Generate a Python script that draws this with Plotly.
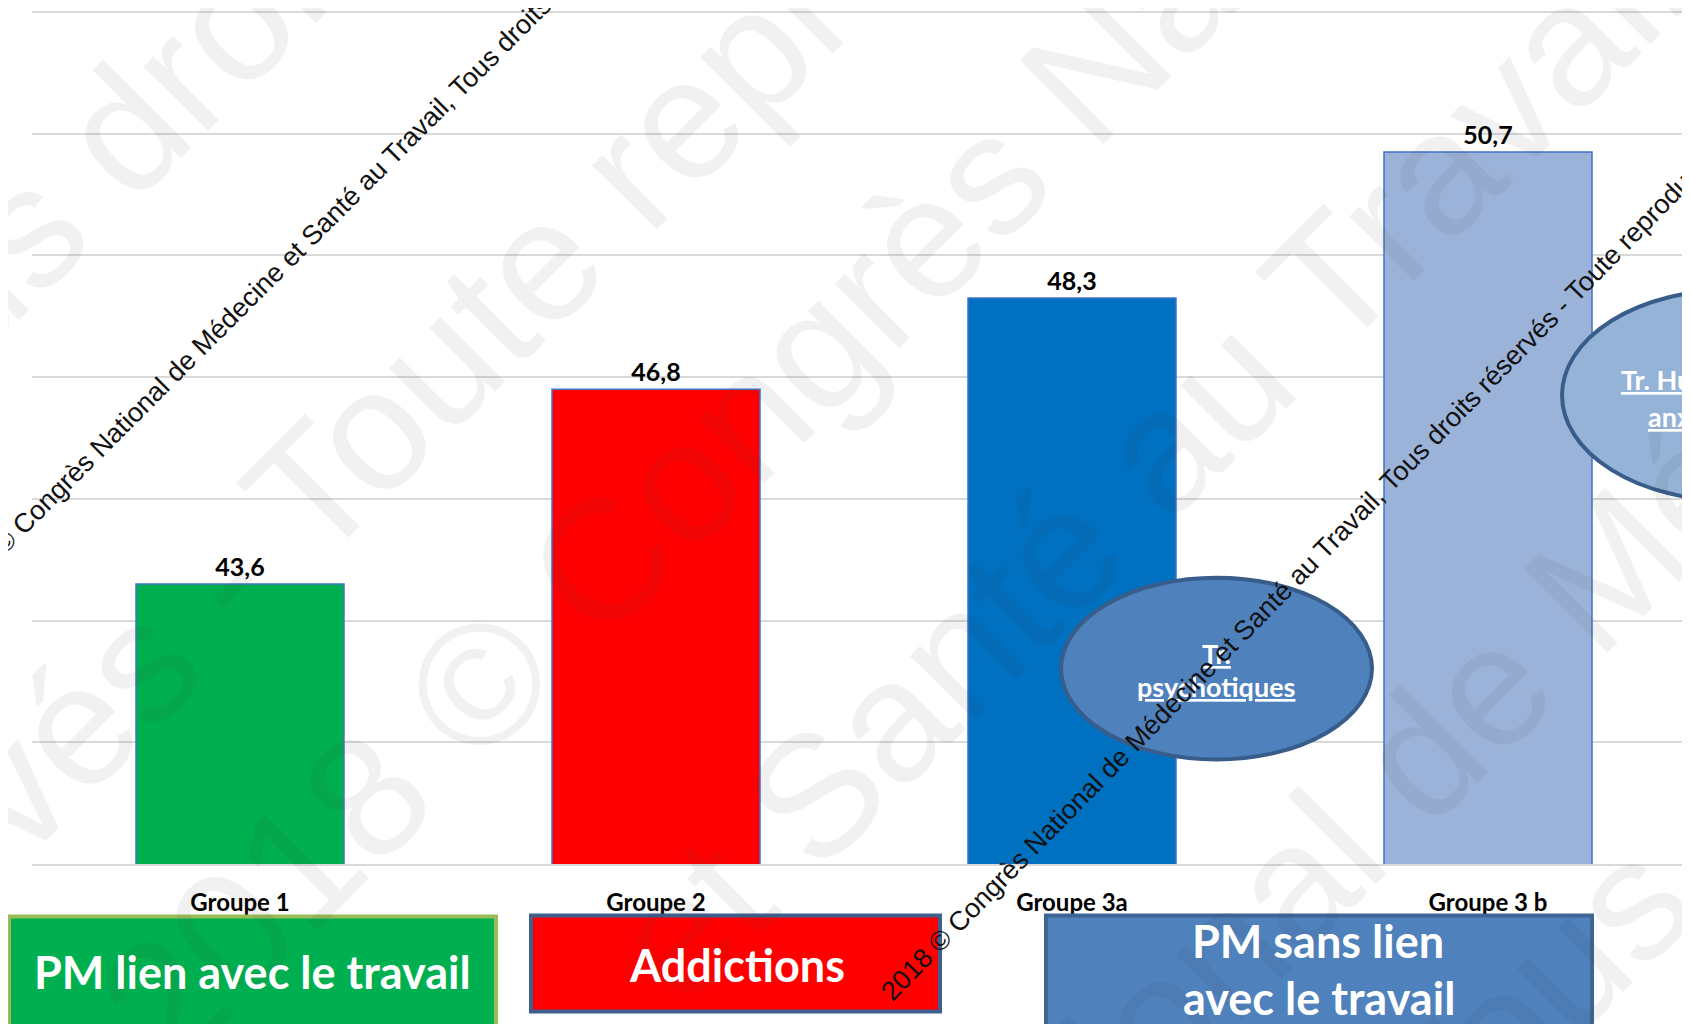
import math
import plotly.graph_objects as go

# ---------------- data ----------------
categories = ["Groupe 1", "Groupe 2", "Groupe 3a", "Groupe 3 b"]
values = [43.6, 46.8, 48.3, 50.7]
bar_colors = ["#00B050", "#FF0000", "#0070C0", "#9CB3D9"]

box_texts = ["PM lien avec le travail", "Addictions", "PM sans lien", "avec le travail"]
ellipse1_lines = ["Tr.", "psychotiques"]
ellipse2_lines = ["Tr. Humeur", "anxieux"]

wm_small = "2018 © Congrès National de Médecine et Santé au Travail, Tous droits réservés - Toute reproduction interdite"
wm_big_lines = ["Tous droits réservés", "réservés - Toute reproduction", "2018 © Congrès National de Médecine",
                "et Santé au Travail, Tous", "National de Médecine", "Travail, Tous droits"]
wm_big_prefix = ["Tous ", "réservés - ", "2018 ", "et ", "National ", "Travail, To"]

# ---------------- geometry helpers (screen pixel -> paper) ----------------
W, H = 1690, 1024
OFF = 8                      # page body margin of the browser
PL, PT = 24, 0               # plot area in figure coords
PW, PH = W - PL, 856.5


def px(x):
    return (x - OFF - PL) / PW


def py(y):
    return (PT + PH - (y - OFF)) / PH


EM = {" ": .278, "T": .611, "o": .556, "u": .556, "s": .5, "d": .556, "r": .333, "i": .222, "t": .278,
      "é": .556, "e": .556, "v": .5, "-": .333, "p": .556, "c": .5, "n": .556, "2": .556, "0": .556,
      "1": .556, "8": .556, "©": .737, "C": .722, "g": .556, "è": .556, "N": .722, "a": .556, "l": .222,
      "M": .833, "S": .667, ",": .278}


def rot_text(text, bx, by, f, color, prefix="", ang=45.0, family="Liberation Sans"):
    # (bx, by): baseline start of the glyph following `prefix`; text rises at `ang` degrees
    th = math.radians(ang)
    c, s = math.cos(th), math.sin(th)
    L = sum(EM.get(ch, .556) for ch in prefix) * f
    bx, by = bx - L * c, by + L * s
    hh = 1.15 * f
    d = 0.212 * f
    X = bx - (hh - d) * s
    Y = by + d * c
    return dict(text=text, x=px(X), y=py(Y), xref="paper", yref="paper",
                xanchor="left", yanchor="bottom", textangle=-ang, showarrow=False,
                font=dict(family=family, size=f, color=color), borderpad=0, borderwidth=0)


fig = go.Figure()
fig.add_trace(go.Bar(
    x=categories, y=values, width=0.5,
    marker=dict(color=bar_colors, line=dict(color="#4472C4", width=1.5)),
    texttemplate="%{y:.1f}", textposition="outside", cliponaxis=False,
    textfont=dict(family="Lato", size=25, color="black", weight="bold"),
    hoverinfo="skip",
))

shapes = []
# bottom boxes
shapes.append(dict(type="rect", xref="paper", yref="paper", x0=px(9), x1=px(496), y0=py(917), y1=py(1040),
                   fillcolor="#00B050", line=dict(color="#9BBB59", width=4), layer="above"))
shapes.append(dict(type="rect", xref="paper", yref="paper", x0=px(531), x1=px(940), y0=py(916), y1=py(1012),
                   fillcolor="#FF0000", line=dict(color="#3F5F8E", width=4), layer="above"))
shapes.append(dict(type="rect", xref="paper", yref="paper", x0=px(1046), x1=px(1592), y0=py(916), y1=py(1040),
                   fillcolor="#4F81BD", line=dict(color="#3F6596", width=4), layer="above"))
# ellipses
shapes.append(dict(type="circle", xref="paper", yref="paper", x0=px(1061), x1=px(1372), y0=py(578), y1=py(760),
                   fillcolor="#4F81BD", line=dict(color="#385D8A", width=4), layer="above"))
shapes.append(dict(type="circle", xref="paper", yref="paper", x0=px(1562), x1=px(1900), y0=py(290), y1=py(501),
                   fillcolor="#95B3D7", line=dict(color="#385D8A", width=4), layer="above"))

ann = []
wm_col = "rgba(60,60,60,0.07)"
big = 172
big_pos = [(149, 193), (323, 567), (480, 771), (821, 878), (1432, 832), (1598, 1022)]
for t, pre, (bx, by) in zip(wm_big_lines, wm_big_prefix, big_pos):
    ann.append(rot_text(t, bx, by, big, wm_col, prefix=pre))

# box texts
box_font = dict(family="Lato", size=45, color="white", weight="bold")
for t, (cx, cy) in zip(box_texts, [(252, 973), (737, 966), (1318, 942), (1319, 999)]):
    ann.append(dict(text=t, x=px(cx), y=py(cy), xref="paper", yref="paper", showarrow=False,
                    xanchor="center", yanchor="middle", font=box_font))

# ellipse texts
ell_font = dict(family="Lato", size=27, color="white", weight="bold", lineposition="under")
ann.append(dict(text=ellipse1_lines[0], x=px(1216), y=py(654), xref="paper", yref="paper", showarrow=False,
                xanchor="center", yanchor="middle", font=ell_font))
ann.append(dict(text=ellipse1_lines[1], x=px(1216), y=py(687), xref="paper", yref="paper", showarrow=False,
                xanchor="center", yanchor="middle", font=ell_font))
ann.append(dict(text=ellipse2_lines[0], x=px(1619), y=py(380), xref="paper", yref="paper", showarrow=False,
                xanchor="left", yanchor="middle", font=ell_font))
ann.append(dict(text=ellipse2_lines[1], x=px(1646), y=py(417), xref="paper", yref="paper", showarrow=False,
                xanchor="left", yanchor="middle", font=ell_font))

# small watermark lines
ann.append(rot_text(wm_small, -43, 604, 27, "#111111", ang=45.0))
ann.append(rot_text(wm_small, 893, 1003, 27, "#111111", ang=45.6))

fig.update_layout(
    template="none",
    width=W, height=H,
    margin=dict(l=PL, r=0, t=PT, b=H - PH, pad=0),
    paper_bgcolor="white", plot_bgcolor="white",
    separators=", ",
    showlegend=False,
    shapes=shapes,
    annotations=ann,
    xaxis=dict(type="category", range=[-0.5, -0.5 + PW / 416.0], showgrid=False, zeroline=False,
               showline=True, linecolor="#D9D9D9", linewidth=2, ticks="",
               tickfont=dict(family="Lato", size=24, color="black", weight="bold"),
               ticklabelstandoff=16, automargin=False, fixedrange=True),
    yaxis=dict(range=[39, 39 + PH / 60.9], tick0=39, dtick=2, showgrid=True, gridcolor="#D9D9D9",
               gridwidth=2, zeroline=False, showline=False, showticklabels=False, ticks="",
               automargin=False, fixedrange=True),
)

fig.write_html("out.html")
